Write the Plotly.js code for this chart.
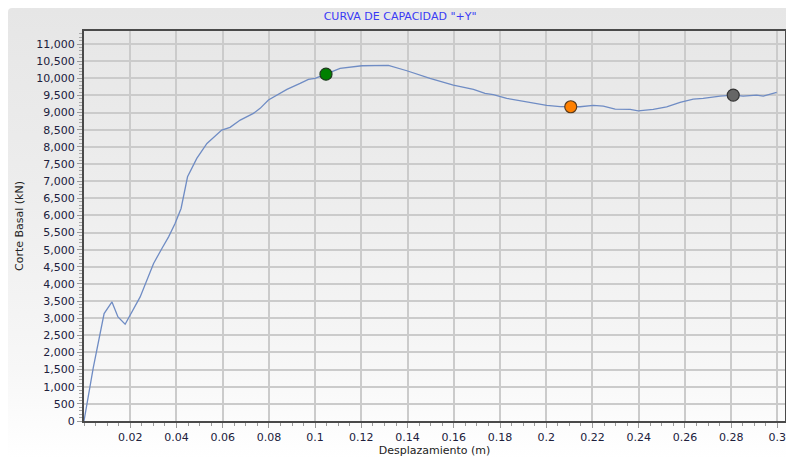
<!DOCTYPE html>
<html>
<head>
<meta charset="utf-8">
<script src="https://cdn.plot.ly/plotly-3.0.1.min.js"></script>
<style>
  html, body { margin: 0; padding: 0; background: #ffffff; }
  #wrap { position: relative; width: 786px; height: 458px; overflow: hidden; }
  #panel { position: absolute; left: 8px; top: 8px; width: 790px; height: 450px;
           border-radius: 4px;
           background: linear-gradient(to bottom, #e6e6e6 0%, #ededed 40%, #f7f7f7 80%, #ffffff 100%); }
  #chart { position: absolute; left: 0; top: 0; width: 786px; height: 458px; }
</style>
</head>
<body>
<div id="wrap">
  <div id="panel"></div>
  <div id="chart"></div>
</div>
<script>
// Capacity curve: displacement (m) vs base shear (kN)
const desplazamiento = [
  0, 0.0040, 0.0087, 0.0121, 0.0147, 0.0178, 0.0243, 0.0301, 0.0337, 0.0366,
  0.0394, 0.0420, 0.0448, 0.0467, 0.0488, 0.0532, 0.0596, 0.0632, 0.0676, 0.0733,
  0.0762, 0.0798, 0.0849, 0.0878, 0.0935, 0.0971, 0.1000, 0.1047, 0.1108, 0.1202,
  0.1317, 0.1397, 0.1497, 0.1598, 0.1649, 0.1685, 0.1735, 0.1771, 0.1829, 0.1916,
  0.2002, 0.2060, 0.2106, 0.2146, 0.2204, 0.2247, 0.2298, 0.2363, 0.2398, 0.2463,
  0.2521, 0.2579, 0.2636, 0.2679, 0.2752, 0.2809, 0.2852, 0.2910, 0.2939, 0.2997
];
const corteBasal = [
  0, 1550, 3136, 3475, 3037, 2824, 3621, 4596, 5034, 5373,
  5764, 6202, 7125, 7370, 7662, 8100, 8489, 8567, 8781, 8976,
  9122, 9365, 9561, 9677, 9852, 9969, 9998, 10120, 10290, 10366,
  10378, 10220, 9998, 9803, 9725, 9677, 9561, 9525, 9414, 9315,
  9210, 9175, 9170, 9169, 9210, 9190, 9102, 9093, 9052, 9093,
  9169, 9300, 9394, 9414, 9482, 9511, 9482, 9511, 9482, 9590
];

// Highlighted performance points
const puntosX = [0.1047, 0.2106, 0.2809];
const puntosY = [10120, 9170, 9510];
const puntosColor = ["#008000", "#ff8000", "#666666"];
const puntosBorde = ["#1e3a1e", "#5a3a1a", "#333333"];

const xTickVals = [0.02, 0.04, 0.06, 0.08, 0.1, 0.12, 0.14, 0.16, 0.18, 0.2, 0.22, 0.24, 0.26, 0.28, 0.3];
const xTickText = ["0.02", "0.04", "0.06", "0.08", "0.1", "0.12", "0.14", "0.16", "0.18", "0.2", "0.22", "0.24", "0.26", "0.28", "0.3"];

const fontFam = "DejaVu Sans, Verdana, sans-serif";
const tickColor = "#20203c";

const traces = [
  {
    x: desplazamiento, y: corteBasal, type: "scatter", mode: "lines",
    line: { color: "#6f8cc4", width: 1.3 },
    hoverinfo: "x+y", showlegend: false
  },
  {
    x: puntosX, y: puntosY, type: "scatter", mode: "markers",
    marker: { size: 12, color: puntosColor, line: { color: puntosBorde, width: 1.2 } },
    showlegend: false
  }
];

const layout = {
  width: 786, height: 458,
  paper_bgcolor: "rgba(0,0,0,0)",
  plot_bgcolor: "rgba(0,0,0,0)",
  margin: { l: 84, r: 1, t: 31, b: 37 },
  title: {
    text: 'CURVA DE CAPACIDAD "+Y"',
    font: { family: fontFam, size: 11, color: "#3a3af5" },
    x: 0.509, xanchor: "center", y: 0.965, yanchor: "middle"
  },
  xaxis: {
    range: [0, 0.3033],
    tickvals: xTickVals, ticktext: xTickText,
    ticklabeloverflow: "allow",
    showgrid: true, gridcolor: "#cbcbcb", gridwidth: 2,
    zeroline: false,
    showline: true, linecolor: "#4a4a4a", linewidth: 2, mirror: true,
    ticks: "outside", ticklen: 5, tickcolor: "#9a9a9a", tickwidth: 1,
    minor: { dtick: 0.005, tick0: 0, ticks: "outside", ticklen: 3, tickcolor: "#9a9a9a", showgrid: false },
    tickfont: { family: fontFam, size: 11, color: tickColor },
    title: { text: "Desplazamiento (m)", font: { family: fontFam, size: 11, color: "#222222" }, standoff: 2 }
  },
  yaxis: {
    range: [0, 11380],
    dtick: 500, tick0: 0,
    tickformat: ",d",
    showgrid: true, gridcolor: "#cbcbcb", gridwidth: 2,
    zeroline: false,
    showline: true, linecolor: "#4a4a4a", linewidth: 2, mirror: true,
    ticks: "outside", ticklen: 5, tickcolor: "#9a9a9a", tickwidth: 1,
    minor: { dtick: 100, tick0: 0, ticks: "outside", ticklen: 3, tickcolor: "#a8a8a8", showgrid: false },
    tickfont: { family: fontFam, size: 11, color: tickColor },
    title: { text: "Corte Basal (kN)", font: { family: fontFam, size: 11, color: "#222222" }, standoff: 10 }
  },
  hovermode: "closest"
};

Plotly.newPlot("chart", traces, layout, { displayModeBar: false });
</script>
</body>
</html>
